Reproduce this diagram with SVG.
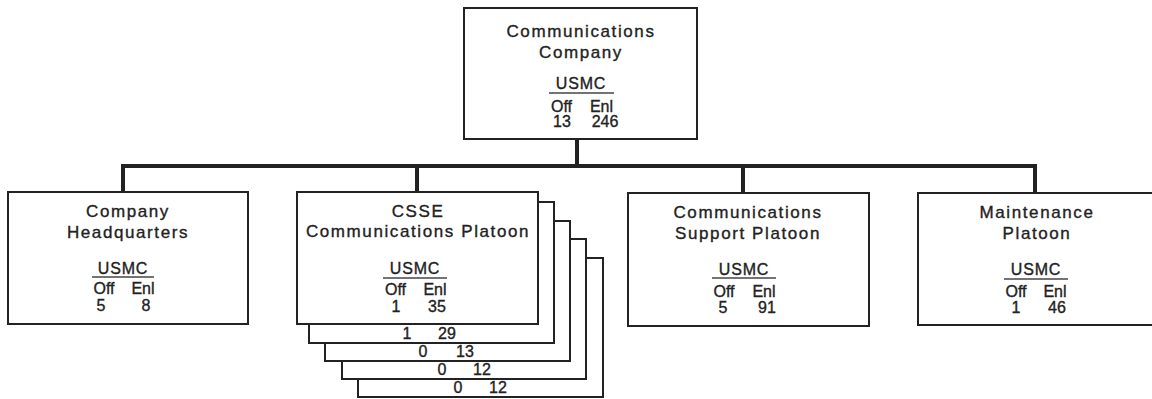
<svg xmlns="http://www.w3.org/2000/svg" width="1152" height="399" viewBox="0 0 1152 399">
<style>
.box{fill:#fff;stroke:#222;stroke-width:2}
.bus{fill:none;stroke:#222;stroke-width:4}
.t{font-family:"Liberation Sans",Arial,sans-serif;font-size:17px;letter-spacing:1.6px;fill:#222;stroke:#222;stroke-width:0.35;text-anchor:middle}
.u{font-family:"Liberation Sans",Arial,sans-serif;font-size:16px;letter-spacing:0.8px;fill:#222;stroke:#222;stroke-width:0.35;text-anchor:middle}
.n{font-family:"Liberation Sans",Arial,sans-serif;font-size:16px;fill:#222;stroke:#222;stroke-width:0.35;text-anchor:middle}
.rule{stroke:#444;stroke-width:1.5}
</style>
<rect width="1152" height="399" fill="#fff"/>
<g id="connectors">
<path class="bus" d="M577 139V166M123 192V166H1035V192M417 166V192M743 166V192"/>
</g>
<g id="comm-company">
<rect class="box" x="464" y="8" width="233" height="131"/>
<text class="t" x="581" y="37">Communications</text>
<text class="t" x="581" y="58">Company</text>
<text class="u" x="581" y="89">USMC</text>
<line class="rule" x1="549" y1="93" x2="614" y2="93"/>
<text class="n" x="561.5" y="112">Off</text>
<text class="n" x="601.5" y="112">Enl</text>
<text class="n" x="562" y="127">13</text>
<text class="n" x="605" y="127">246</text>
</g>
<g id="company-hq">
<rect class="box" x="8" y="192" width="240" height="132"/>
<text class="t" x="128" y="217">Company</text>
<text class="t" x="128" y="238">Headquarters</text>
<text class="u" x="123" y="274">USMC</text>
<line class="rule" x1="92" y1="277" x2="154" y2="277"/>
<text class="n" x="104" y="294">Off</text>
<text class="n" x="143" y="294">Enl</text>
<text class="n" x="101" y="311">5</text>
<text class="n" x="146" y="311">8</text>
</g>
<g id="csse-platoon">
<rect class="box" x="358" y="258" width="245" height="139"/>
<text class="n" x="458" y="393">0</text>
<text class="n" x="498" y="393">12</text>
<rect class="box" x="342" y="239" width="244" height="140"/>
<text class="n" x="442" y="375">0</text>
<text class="n" x="482" y="375">12</text>
<rect class="box" x="325" y="221" width="245" height="140"/>
<text class="n" x="423" y="357">0</text>
<text class="n" x="465" y="357">13</text>
<rect class="box" x="309" y="202" width="245" height="141"/>
<text class="n" x="407" y="339">1</text>
<text class="n" x="447" y="339">29</text>
<rect class="box" x="297" y="192" width="241" height="132"/>
<text class="t" x="418" y="217">CSSE</text>
<text class="t" x="418" y="237">Communications Platoon</text>
<text class="u" x="415" y="274">USMC</text>
<line class="rule" x1="383" y1="278" x2="447" y2="278"/>
<text class="n" x="395.5" y="295">Off</text>
<text class="n" x="435" y="295">Enl</text>
<text class="n" x="396" y="312">1</text>
<text class="n" x="437" y="312">35</text>
</g>
<g id="comm-support-platoon">
<rect class="box" x="628" y="193" width="241" height="133"/>
<text class="t" x="748" y="218">Communications</text>
<text class="t" x="748" y="239">Support Platoon</text>
<text class="u" x="744" y="275">USMC</text>
<line class="rule" x1="712" y1="278" x2="776" y2="278"/>
<text class="n" x="724" y="297">Off</text>
<text class="n" x="764" y="297">Enl</text>
<text class="n" x="723" y="313">5</text>
<text class="n" x="767" y="313">91</text>
</g>
<g id="maintenance-platoon">
<rect class="box" x="918" y="193" width="237" height="132"/>
<text class="t" x="1037" y="218">Maintenance</text>
<text class="t" x="1037" y="239">Platoon</text>
<text class="u" x="1036" y="275">USMC</text>
<line class="rule" x1="1004" y1="279" x2="1068" y2="279"/>
<text class="n" x="1016" y="297">Off</text>
<text class="n" x="1055" y="297">Enl</text>
<text class="n" x="1016" y="313">1</text>
<text class="n" x="1057" y="313">46</text>
</g>
</svg>
